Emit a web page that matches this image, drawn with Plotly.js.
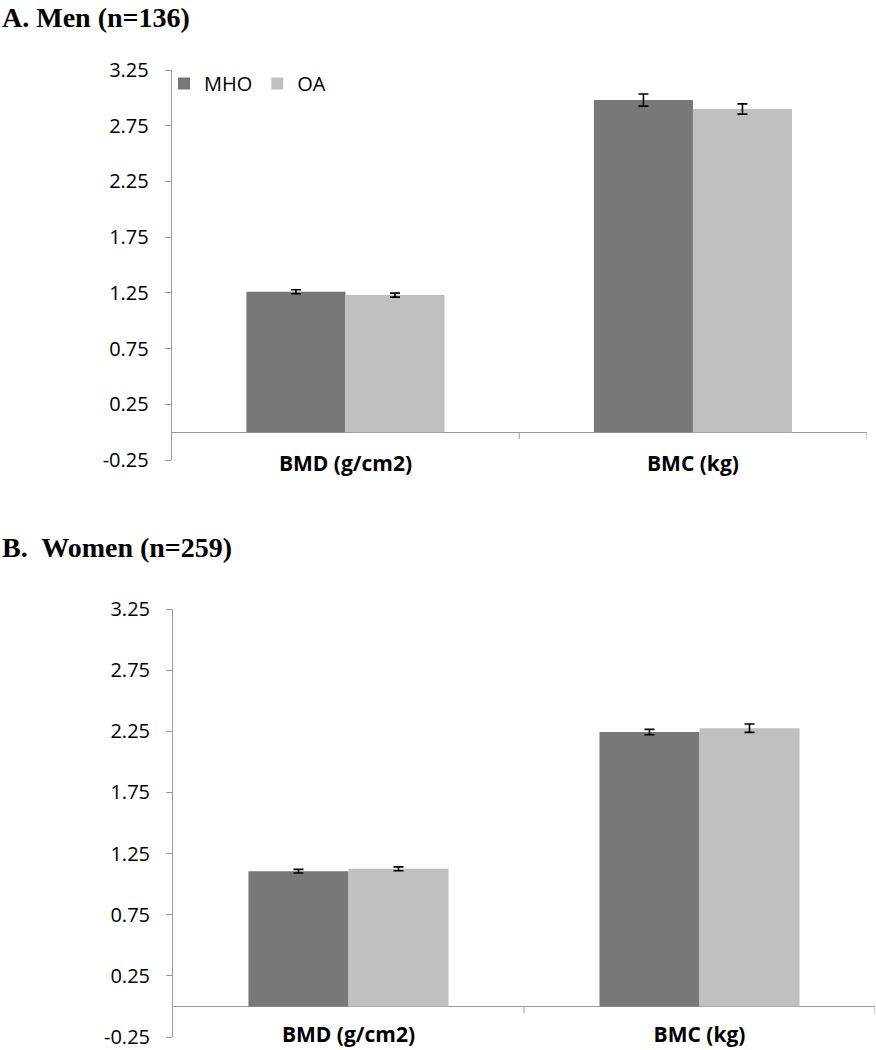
<!DOCTYPE html>
<html>
<head>
<meta charset="utf-8">
<script src="https://cdn.plot.ly/plotly-3.0.1.min.js"></script>
<style>
  html, body { margin: 0; padding: 0; background: #fff; }
  #chart { width: 876px; height: 1050px; }
</style>
</head>
<body>
<div id="chart"></div>
<script>
// ---- data ----
const categories = ['BMD (g/cm2)', 'BMC (kg)'];
const seriesNames = ['MHO', 'OA'];

const menMHO = [1.26, 2.98];
const menMHOErr = [0.018, 0.054];
const menOA = [1.23, 2.90];
const menOAErr = [0.018, 0.046];

const womenMHO = [1.106, 2.244];
const womenMHOErr = [0.015, 0.022];
const womenOA = [1.125, 2.275];
const womenOAErr = [0.016, 0.034];

const tickValues = [-0.25, 0.25, 0.75, 1.25, 1.75, 2.25, 2.75, 3.25];
const tickLabels = ['-0.25', '0.25', '0.75', '1.25', '1.75', '2.25', '2.75', '3.25'];

const panelTitles = ['A. Men (n=136)', 'B.  Women (n=259)'];

// ---- styles ----
const colMHO = '#787878';
const colOA = '#c0c0c0';
const axisCol = '#9a9a9a';
const sansFont = 'Open Sans, Lato, sans-serif';

function barTrace(name, vals, errs, color, xa, ya, showLegend) {
  return {
    type: 'bar', name: name, x: categories, y: vals,
    xaxis: xa, yaxis: ya, showlegend: showLegend,
    marker: { color: color, line: { width: 0 } },
    error_y: { type: 'data', array: errs, visible: true, color: '#000', thickness: 1.6, width: 5 },
    hoverinfo: 'skip'
  };
}

const traces = [
  barTrace(seriesNames[0], menMHO, menMHOErr, colMHO, 'x', 'y', true),
  barTrace(seriesNames[1], menOA, menOAErr, colOA, 'x', 'y', true),
  barTrace(seriesNames[0], womenMHO, womenMHOErr, colMHO, 'x2', 'y2', false),
  barTrace(seriesNames[1], womenOA, womenOAErr, colOA, 'x2', 'y2', false)
];

const W = 876, H = 1050;
function yAxisDef(domain, anchor) {
  return {
    domain: domain, anchor: anchor, range: [-0.25, 3.25],
    tickmode: 'array', tickvals: tickValues, ticktext: tickLabels,
    showline: true, linecolor: axisCol, linewidth: 1,
    ticks: 'outside', ticklen: 6, tickcolor: axisCol, tickwidth: 1,
    ticklabelstandoff: 12,
    showgrid: false, zeroline: true, zerolinecolor: axisCol, zerolinewidth: 1.2,
    tickfont: { family: sansFont, size: 20, color: '#000' },
    fixedrange: true
  };
}
function xAxisDef(domain, position) {
  return {
    domain: domain, anchor: 'free', position: position,
    type: 'category', range: [-0.5, 1.5],
    showline: false, ticks: '', showgrid: false, zeroline: false,
    tickfont: { family: sansFont, size: 21, color: '#000', weight: 'bold' },
    fixedrange: true
  };
}

function sepTick(xref, yref, xv) {
  return {
    type: 'line', xref: xref, yref: yref, x0: xv, x1: xv,
    ysizemode: 'pixel', yanchor: 0, y0: 0, y1: -7,
    line: { color: axisCol, width: 1 }
  };
}

const layout = {
  width: W, height: H,
  margin: { l: 0, r: 0, t: 0, b: 0, pad: 0 },
  paper_bgcolor: '#fff', plot_bgcolor: 'rgba(0,0,0,0)',
  barmode: 'group', bargap: 0.43, bargroupgap: 0,
  showlegend: true,
  legend: {
    orientation: 'h', x: 164 / W, y: 1 - 64 / H, xanchor: 'left', yanchor: 'top',
    font: { family: sansFont, size: 20, color: '#000' },
    bgcolor: 'rgba(0,0,0,0)', itemwidth: 30, tracegroupgap: 0
  },
  xaxis: xAxisDef([171.7 / W, 866.7 / W], 1 - 449 / H),
  yaxis: yAxisDef([1 - 460 / H, 1 - 70 / H], 'x'),
  xaxis2: xAxisDef([173 / W, 875 / W], 1 - 1020 / H),
  yaxis2: yAxisDef([1 - 1037 / H, 1 - 609 / H], 'x2'),
  shapes: [
    sepTick('x', 'y', 0.5), sepTick('x', 'y', 1.5),
    sepTick('x2', 'y2', 0.5), sepTick('x2', 'y2', 1.5)
  ],
  annotations: [
    { text: '<b>' + panelTitles[0] + '</b>', xref: 'paper', yref: 'paper',
      x: 0, y: 1 - 18 / H, xanchor: 'left', yanchor: 'middle', showarrow: false,
      font: { family: 'Liberation Serif, Times New Roman, serif', size: 28, color: '#000' } },
    { text: '<b>' + panelTitles[1] + '</b>', xref: 'paper', yref: 'paper',
      x: 0, y: 1 - 547 / H, xanchor: 'left', yanchor: 'middle', showarrow: false,
      font: { family: 'Liberation Serif, Times New Roman, serif', size: 28, color: '#000' } }
  ]
};

Plotly.newPlot('chart', traces, layout, { displayModeBar: false, staticPlot: true });
</script>
</body>
</html>
